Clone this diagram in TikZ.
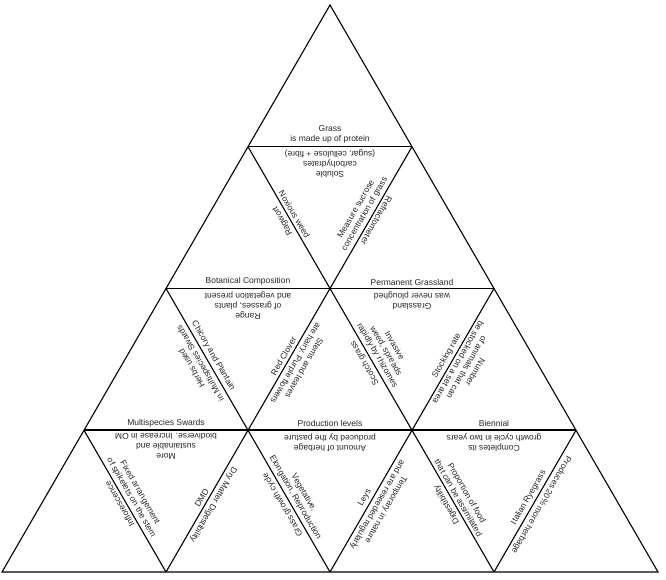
\documentclass[tikz,border=0pt]{standalone}
\usepackage{fontspec}
\setmainfont{Liberation Sans}
\usetikzlibrary{calc}
\tikzset{
  lbl/.style={font=\fontsize{8.5}{9.8}\selectfont, text=black!85, align=center, inner sep=1pt},
  edgeline/.style={line width=1.1pt, line join=miter},
  rowline/.style={line width=1.5pt}
}
\newcommand\edgelabel[5]{\node[lbl,rotate=#3,anchor=south] (#5) at ($(#1)!0.5!(#2)+(#3+90:2)$) {#4};}
\begin{document}
\begin{tikzpicture}[x=1pt,y=1pt]
\useasboundingbox (0,0) rectangle (666,580);
\foreach \k in {0,...,4}{\foreach \i in {0,...,\k}{\coordinate (P\k\i) at ({330-82*\k+164*\i},{575-141.75*\k});}}
% outline and lines
\draw[edgeline] (P00) -- (P40) -- (P44) -- cycle;
\draw[rowline] (P10) -- (P11);
\draw[rowline] (P20) -- (P22);
\draw[rowline] (P30) -- (P33);
\draw[edgeline] (P10) -- (P43);
\draw[edgeline] (P20) -- (P42);
\draw[edgeline] (P30) -- (P41);
\draw[edgeline] (P11) -- (P41);
\draw[edgeline] (P22) -- (P42);
\draw[edgeline] (P33) -- (P43);
% horizontal row 1
\edgelabel{P10}{P11}{0}{Grass\\is made up of protein}{t1}
\edgelabel{P10}{P11}{180}{Soluble\\carbohydrates\\(sugar, cellulose + fibre)}{t2}
% row 1 slants
\edgelabel{P10}{P21}{120}{Ragwort}{t3}
\edgelabel{P10}{P21}{-60}{Noxious weed}{t4}
\edgelabel{P11}{P21}{60}{Measure sucrose\\concentration of grass}{t5}
\edgelabel{P11}{P21}{240}{Refractometer}{t6}
% horizontal row 2
\edgelabel{P20}{P21}{0}{Botanical Composition}{t7}
\edgelabel{P20}{P21}{180}{Range\\of grasses, plants\\and vegetation present}{t8}
\edgelabel{P21}{P22}{0}{Permanent Grassland}{t9}
\edgelabel{P21}{P22}{180}{Grassland\\was never ploughed}{t10}
% row 2 slants
\edgelabel{P20}{P31}{120}{Herbs used\\in Multispecies Swards}{t11}
\edgelabel{P20}{P31}{-60}{Chicory and Plantain}{t12}
\edgelabel{P21}{P31}{60}{Red Clover}{t13}
\edgelabel{P21}{P31}{240}{Stems and leaves\\are hairy. Purple flowers}{t14}
\edgelabel{P21}{P32}{120}{Scotch grass}{t15}
\edgelabel{P21}{P32}{-60}{Invasive\\weed, spreads\\rapidly by rhizomes}{t16}
\edgelabel{P22}{P32}{60}{Stocking rate}{t17}
\edgelabel{P22}{P32}{240}{Number\\of animals that can\\be stocked on a set area}{t18}
% horizontal row 3
\edgelabel{P30}{P31}{0}{Multispecies Swards}{t19}
\edgelabel{P30}{P31}{180}{More\\sustainable and\\biodiverse. Increase in OM}{t20}
\edgelabel{P31}{P32}{0}{Production levels}{t21}
\edgelabel{P31}{P32}{180}{Amount of herbage\\produced by the pasture}{t22}
\edgelabel{P32}{P33}{0}{Biennial}{t23}
\edgelabel{P32}{P33}{180}{Completes its\\growth cycle in two years}{t24}
% row 3 slants
\edgelabel{P30}{P41}{120}{Inflorescence}{t25}
\edgelabel{P30}{P41}{-60}{Fixed arrangement\\of spikelets on the stem}{t26}
\edgelabel{P31}{P41}{60}{DMD}{t27}
\edgelabel{P31}{P41}{240}{Dry Matter Digestibility}{t28}
\edgelabel{P31}{P42}{120}{Grass growth cycle}{t29}
\edgelabel{P31}{P42}{-60}{Vegetative,\\Elongation, Reproduction}{t30}
\edgelabel{P32}{P42}{60}{Leys}{t31}
\edgelabel{P32}{P42}{240}{Temporary in nature\\and are reseeded regularly}{t32}
\edgelabel{P32}{P43}{120}{Digestibility}{t33}
\edgelabel{P32}{P43}{-60}{Proportion of food\\that can be assimilated}{t34}
\edgelabel{P33}{P43}{60}{Italian Ryegrass}{t35}
\edgelabel{P33}{P43}{240}{Produces 20\% more herbage}{t36}
\end{tikzpicture}
\end{document}
